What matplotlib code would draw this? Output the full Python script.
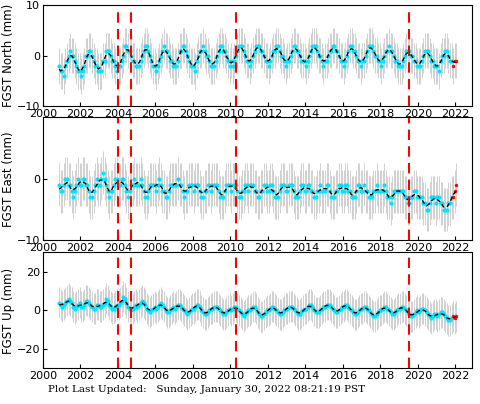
import numpy as np
import pandas as pd
import matplotlib
matplotlib.use("Agg")
from matplotlib import pyplot as plt

# monthly position estimates (mm), Nov 2000 .. Jan 2022
North = [-2,-3,
 -3,-4,-2,-1,0,1,0,0,-1,-2,-3,-3,
 -4,-3,-2,0,0,1,1,0,-1,-2,-2,-3,
 -3,-3,-1,-1,1,1,1,0,-1,-1,-2,-3,
 -2,-2,-1,0,2,2,1,1,0,-1,-1,-2,
 -2,-2,-1,0,1,2,2,1,0,-1,-2,-2,
 -3,-2,-1,0,1,2,1,1,0,-1,-1,-2,
 -2,-2,-1,1,1,2,2,1,0,-1,-2,-2,
 -2,-3,-1,0,1,1,2,1,0,0,-1,-2,
 -2,-2,-1,0,1,2,2,1,1,0,-1,-2,
 -1,-2,-1,0,1,2,2,2,1,0,-1,-1,
 -2,-1,0,1,2,2,2,1,1,0,-1,-1,
 -2,-1,0,1,1,2,2,1,0,0,-1,-2,
 -1,-1,0,1,2,2,1,1,0,-1,-1,-1,
 -2,-1,0,1,2,2,2,1,0,0,-1,-2,
 -1,-1,0,1,1,2,2,1,1,0,-1,-1,
 -2,-1,0,1,2,2,1,1,0,-1,-1,-2,
 -1,-1,0,1,2,2,2,1,0,0,-1,-1,
 -2,-1,0,1,1,2,1,1,0,-1,-1,-2,
 -2,-2,-1,0,1,1,1,0,0,-1,-1,-2,
 -2,-2,-1,0,1,1,1,0,-1,-1,-2,-2,
 -2,-3,-1,0,0,1,1,0,-1,-1,-2,-1,
 -1]
East = [-1,-2,
 -2,-1,0,0,-1,-1,-2,-3,-2,-1,0,-1,
 -1,0,0,-1,-1,-2,-3,-3,-2,-1,0,-1,
 -1,0,1,0,-1,-2,-3,-2,-2,-1,0,0,
 -1,-1,0,0,-1,-2,-3,-2,-1,-1,0,-1,
 -1,-1,0,-1,-2,-3,-3,-2,-1,-1,-1,-1,
 -2,-1,0,-1,-2,-2,-3,-3,-2,-1,-1,-1,
 -1,-1,0,-1,-1,-2,-3,-2,-2,-1,-1,-1,
 -2,-1,-1,-1,-2,-3,-3,-2,-2,-1,-1,-2,
 -1,-1,-1,-1,-2,-3,-3,-3,-2,-1,-1,-1,
 -2,-1,-1,-1,-2,-3,-3,-2,-2,-1,-1,-2,
 -1,-1,-1,-2,-2,-3,-3,-2,-2,-1,-1,-2,
 -2,-1,-1,-2,-3,-3,-3,-2,-1,-1,-1,-2,
 -2,-1,-1,-1,-2,-3,-3,-3,-2,-1,-1,-2,
 -2,-1,-1,-2,-2,-3,-3,-2,-2,-1,-2,-2,
 -2,-1,-1,-2,-3,-3,-3,-2,-2,-1,-1,-2,
 -2,-1,-1,-2,-2,-3,-3,-3,-2,-1,-1,-2,
 -2,-1,-2,-2,-3,-3,-3,-2,-2,-1,-2,-2,
 -2,-2,-1,-2,-3,-3,-4,-3,-2,-2,-2,-2,
 -2,-2,-2,-3,-3,-4,-4,-3,-3,-2,-2,-3,
 -3,-3,-3,-4,-4,-5,-5,-4,-3,-3,-3,-4,
 -3,-3,-4,-4,-5,-5,-5,-4,-4,-3,-3,-2,
 -1]
Up = [4,3,
 2,3,4,5,6,5,4,2,1,2,3,4,
 2,2,3,5,5,4,3,2,1,1,3,3,
 2,2,3,4,6,5,3,2,1,1,2,3,
 3,4,5,7,6,4,2,1,0,1,2,3,
 2,3,4,5,4,3,1,0,-1,0,1,2,
 1,2,3,4,3,2,0,-1,-1,0,1,2,
 1,2,3,3,2,1,0,-1,-2,-1,0,1,
 1,2,3,3,2,0,-1,-2,-2,-1,0,1,
 1,2,2,2,1,0,-1,-2,-2,-1,0,1,
 0,1,2,2,1,0,-1,-2,-3,-2,-1,0,
 0,1,2,2,1,-1,-2,-3,-3,-2,-1,0,
 0,1,2,2,1,0,-1,-2,-2,-1,0,1,
 1,2,2,2,1,0,-1,-2,-2,-1,0,1,
 1,2,3,3,2,0,-1,-1,-1,0,1,2,
 2,3,3,3,2,1,0,-1,-1,0,1,2,
 2,3,3,2,1,0,-1,-2,-2,-1,0,1,
 1,2,2,1,0,-1,-2,-3,-3,-2,-1,0,
 0,1,2,2,1,0,-1,-2,-2,-1,0,1,
 1,2,2,1,0,-1,-2,-3,-3,-2,-1,0,
 -1,0,1,1,0,-1,-2,-3,-4,-3,-2,-2,
 -3,-2,-1,-1,-2,-3,-4,-5,-5,-4,-3,-4,
 -3]
Sigma = [3.5, 3.5, 8.0]
Breaks = [2004.0, 2004.7, 2010.3, 2019.5]
Labels = ["FGST North (mm)", "FGST East (mm)", "FGST Up (mm)"]
Limits = [(-10, 10), (-10, 10), (-30, 30)]
Ticks = [[-10, 0, 10], [-10, 0], [-20, 0, 20]]

T = 2000 + 10.5/12 + np.arange(len(North)) / 12.0

fig = plt.figure(figsize=(4.81, 4.04), dpi=100)
Boxes = [(0.089, 0.737, 0.893, 0.25), (0.089, 0.405, 0.893, 0.305), (0.089, 0.088, 0.893, 0.287)]
for Box, Y, Sg, Lab, Lim, Tk in zip(Boxes, [North, East, Up], Sigma, Labels, Limits, Ticks):
    ax = fig.add_axes(Box)
    Y = np.array(Y, dtype=float)
    ax.errorbar(T, Y, yerr=Sg, fmt="none", ecolor="#bdbdbd", elinewidth=0.5, capsize=0)
    Red = T > 2021.8
    ax.plot(T[~Red], Y[~Red], "o", color="#00e5ff", ms=3, mec="none")
    ax.plot(T[Red], Y[Red], "o", color="red", ms=2.5, mec="none")
    Model = pd.Series(Y).rolling(5, center=True, min_periods=1).mean()
    ax.plot(T, Model, "--", color="black", lw=1, dashes=(3, 2))
    for B in Breaks:
        ax.axvline(B, color="red", ls="--", lw=1.5, dashes=(5, 3))
    ax.set_xlim(2000, 2022.9)
    ax.set_ylim(*Lim)
    ax.set_yticks(Tk)
    ax.set_xticks(range(2000, 2023, 2))
    ax.tick_params(labelsize=8, direction="in", length=3, pad=2)
    ax.set_ylabel(Lab, fontsize=8.5, labelpad=1)

fig.text(0.1, 0.03, "Plot Last Updated:   Sunday, January 30, 2022 08:21:19 PST",
         family="DejaVu Serif", fontsize=7.5)
fig.savefig("out.png", dpi=100)
